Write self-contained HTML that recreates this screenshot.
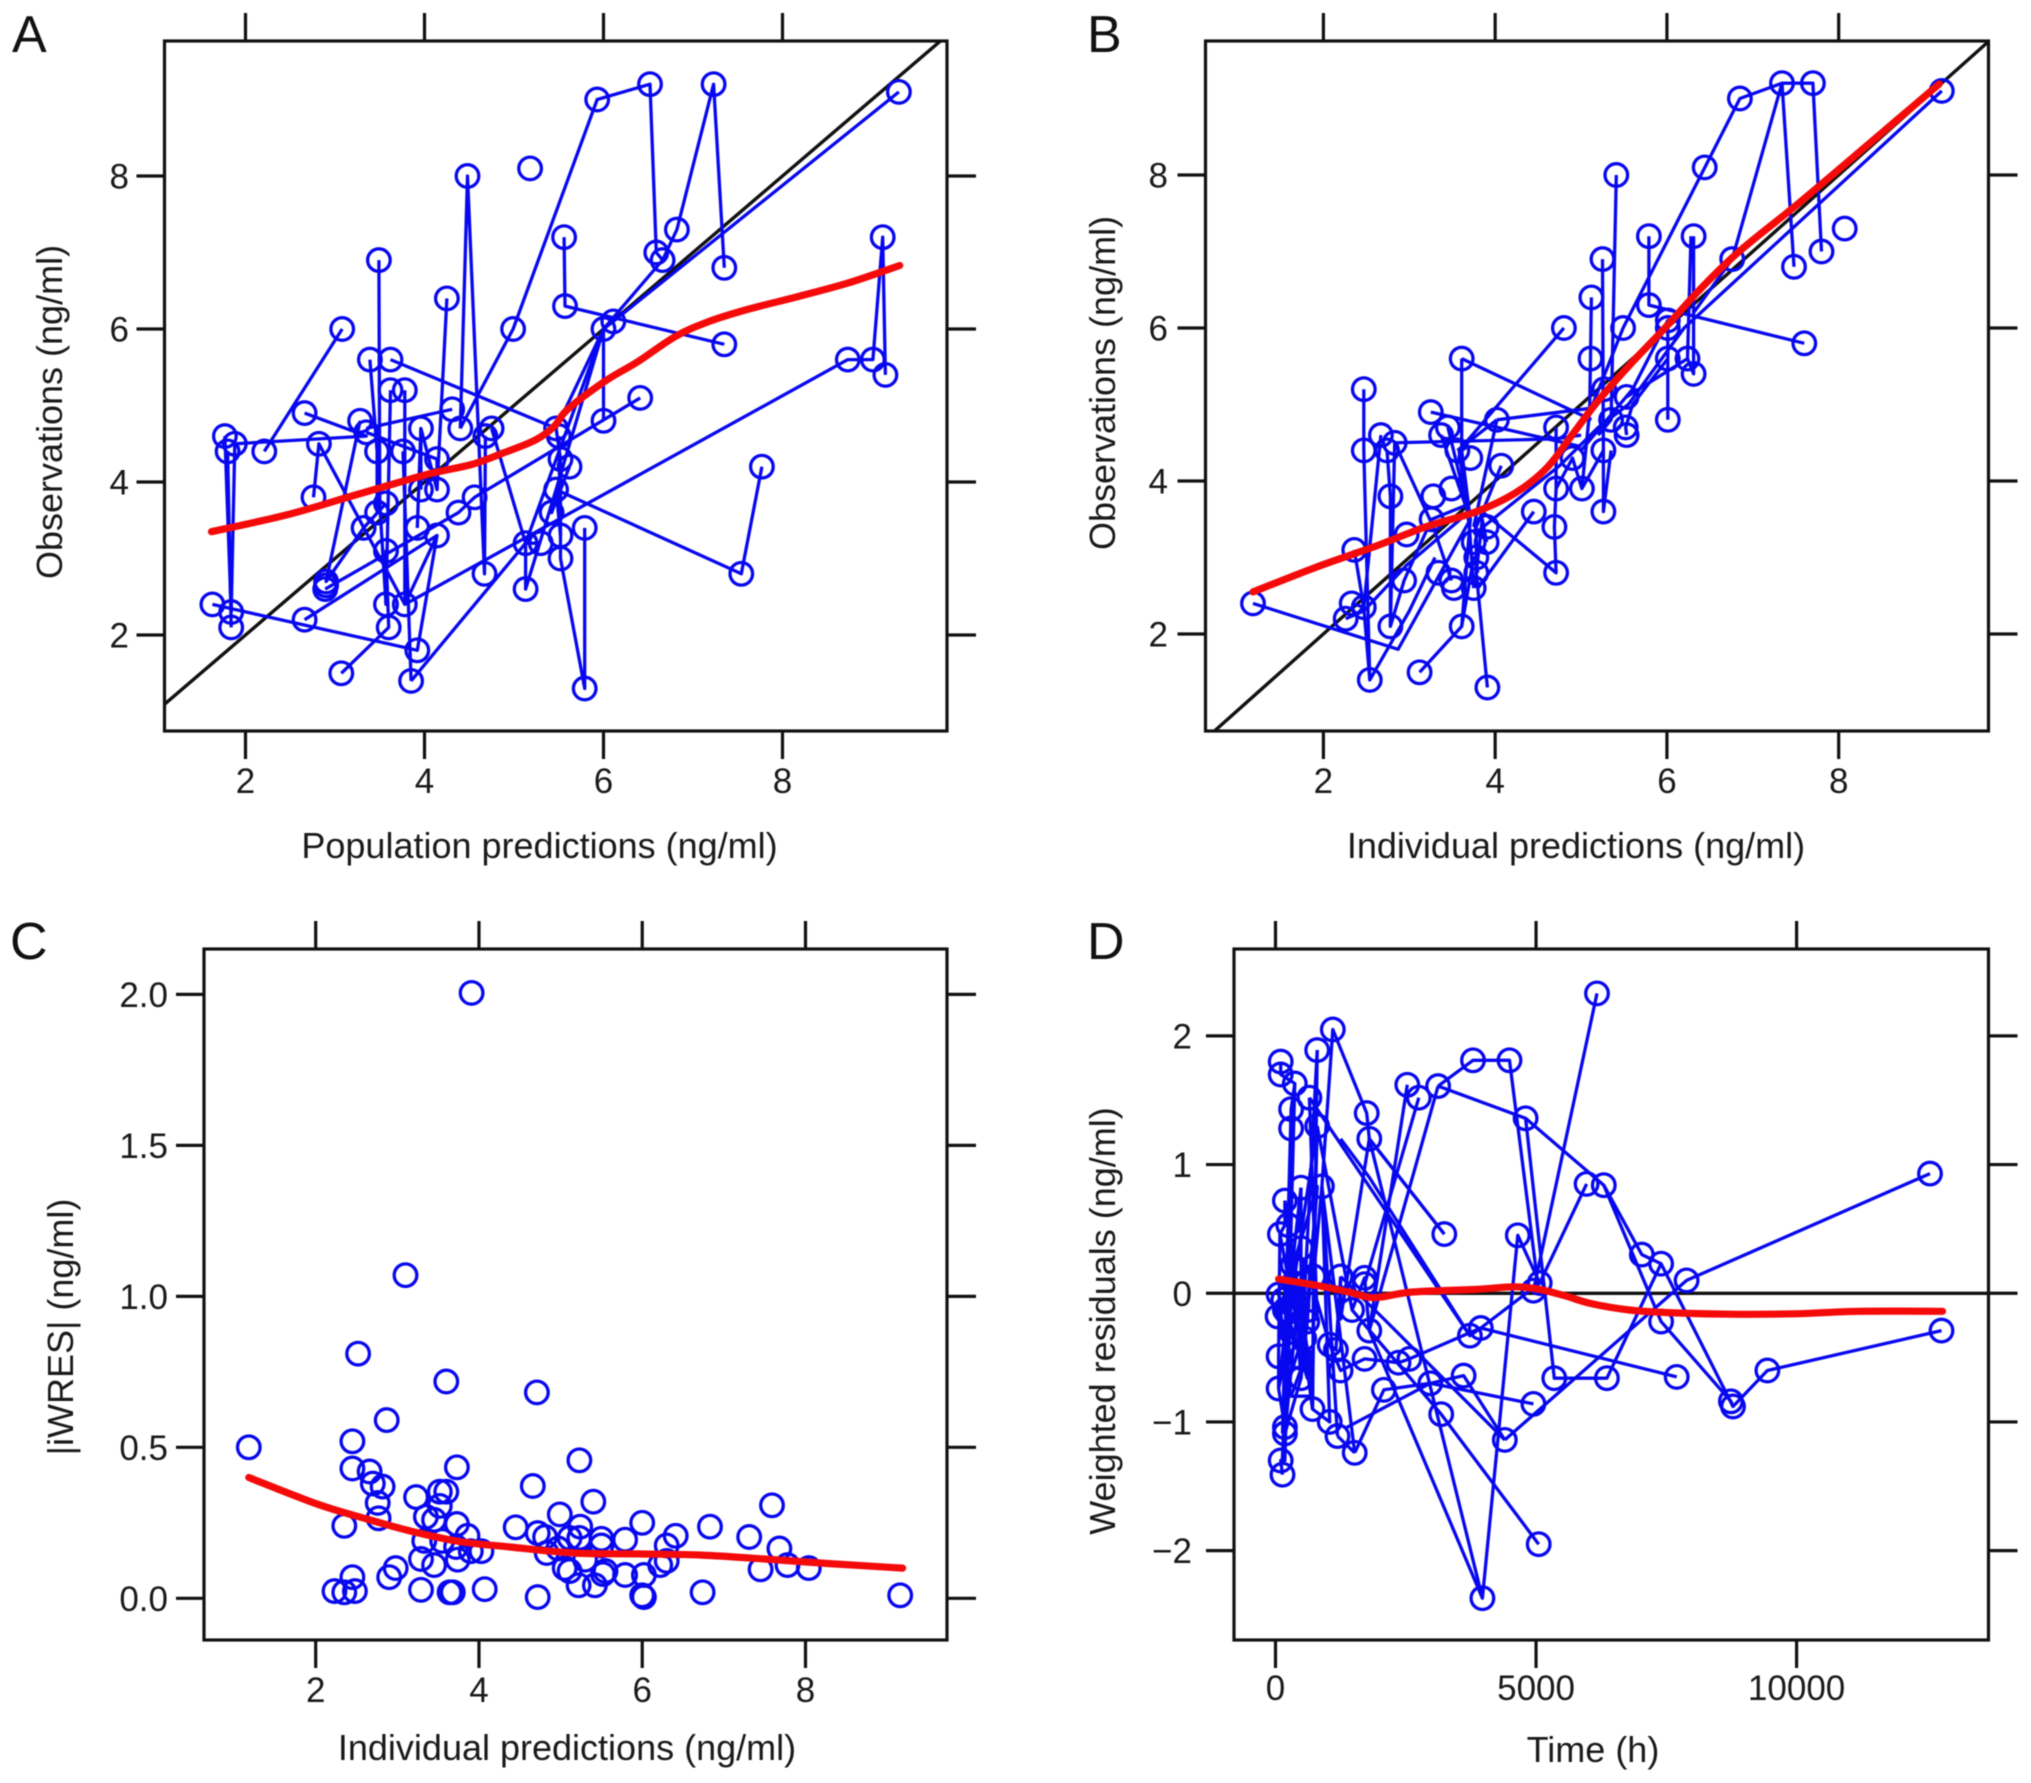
<!DOCTYPE html>
<html lang="en">
<head>
<meta charset="utf-8">
<title>Goodness-of-fit diagnostic plots</title>
<style>
html,body{margin:0;padding:0;background:#fff;}
svg{display:block;filter:blur(.5px);}
text{font-family:"Liberation Sans",Arial,sans-serif;fill:#1a1a1a;}
.title{font-size:36px;}
.tick{font-size:35px;}
.letter{font-size:52px;fill:#111;}
</style>
</head>
<body>
<svg id="figure" width="2031" height="1783" viewBox="0 0 2031 1783" xmlns="http://www.w3.org/2000/svg">
<rect x="0" y="0" width="2031" height="1783" fill="#fff"/>
<text class="letter" x="12" y="52">A</text>
<text class="letter" x="1087" y="52">B</text>
<text class="letter" x="10" y="959">C</text>
<text class="letter" x="1087" y="959">D</text>
<text class="title" x="539.5" y="858" text-anchor="middle">Population predictions (ng/ml)</text>
<text class="title" x="1576" y="858" text-anchor="middle">Individual predictions (ng/ml)</text>
<text class="title" x="567" y="1760" text-anchor="middle">Individual predictions (ng/ml)</text>
<text class="title" x="1593" y="1762" text-anchor="middle">Time (h)</text>
<text class="title" transform="translate(62,412) rotate(-90)" text-anchor="middle">Observations (ng/ml)</text>
<text class="title" transform="translate(1115,383) rotate(-90)" text-anchor="middle">Observations (ng/ml)</text>
<text class="title" transform="translate(73,1327) rotate(-90)" text-anchor="middle">|iWRES| (ng/ml)</text>
<text class="title" transform="translate(1115,1321) rotate(-90)" text-anchor="middle">Weighted residuals (ng/ml)</text>
</svg>
<script>
// ---------- Panel A: observations vs population predictions ----------
const aPointsX = [1.63,1.77,1.80,1.88,1.84,1.84,2.21,2.66,2.66,3.08,2.82,2.76,2.90,2.90,2.89,3.07,3.28,3.35,3.32,3.39,3.49,3.47,3.47,3.57,3.62,3.62,3.78,3.57,3.57,3.60,3.78,3.76,3.85,3.92,3.92,3.96,3.96,4.14,4.14,4.14,4.25,4.31,4.40,4.38,4.48,4.56,4.68,4.75,4.67,4.99,5.13,5.13,5.18,5.30,5.42,5.47,5.50,5.47,5.52,5.62,5.52,5.52,5.56,5.57,5.79,5.79,5.93,6.00,6.00,6.11,6.41,6.52,6.59,6.66,6.82,7.23,7.35,7.35,7.54,7.77,8.73,9.01,9.15,9.12,9.30];
const aPointsY = [2.4,4.6,4.4,4.5,2.3,2.1,4.4,4.9,2.2,6.0,4.5,3.8,2.7,2.65,2.6,1.5,4.8,4.65,3.4,5.6,6.9,4.4,3.6,3.72,5.6,5.2,5.2,3.1,2.4,2.1,2.4,4.4,1.4,1.8,3.4,4.7,3.9,3.9,4.3,3.3,6.4,4.95,4.7,3.6,8.0,3.8,4.6,4.7,2.8,6.0,3.2,2.6,8.1,3.2,3.6,4.7,4.6,3.9,4.3,4.2,3.3,3.0,7.2,6.3,3.4,1.3,9.0,6.0,4.8,6.1,5.1,9.2,7.0,6.9,7.3,9.2,6.8,5.8,2.8,4.2,5.6,5.6,5.4,7.2,9.1];
const aPathsX = [
 [1.63,3.92,4.14,3.78,3.78],[1.77,1.84,1.88,3.35,2.66],[1.80,1.84],[2.21,3.08],[2.76,2.82,3.78],
 [3.28,2.90,3.32,3.57],[2.89,4.38,4.56,6.41],[2.66,4.14],[3.07,3.60,3.57,3.57,3.62],
 [3.78,8.73,9.01,9.12,9.15],[3.85,5.13,6.00,6.00],[3.62,5.47,6.00],[3.39,3.47,3.47],[3.49,3.50,3.57],
 [4.25,4.14,3.96,3.96],[3.35,4.14,4.14],[3.35,4.31],[4.40,4.48,4.67,4.68],
 [4.40,4.99,5.93,6.52,6.59,6.66,6.82,7.23,7.35],[4.75,5.13],[5.30,5.13,5.13,5.47,5.52,5.50],
 [5.79,5.79,5.52,5.52,5.47],[5.56,5.57,7.35],[5.62,5.42,5.47,7.54,7.77],[3.76,3.85],[3.96,3.92],
 [5.47,6.00,6.11,9.30],[6.00,6.66]
];
const aPathsY = [
 [2.4,1.8,3.3,2.4,5.2],[4.6,2.3,4.5,4.6,4.9],[4.4,2.1],[4.4,6.0],[3.8,4.5,2.4],
 [4.8,2.7,3.4,3.72],[2.6,3.6,3.8,5.1],[2.2,3.3],[1.5,2.1,3.1,2.4,5.2],
 [2.4,5.6,5.6,7.2,5.4],[1.4,3.2,6.0,4.8],[5.6,4.7,6.0],[5.6,4.4,3.6],[6.9,3.7,2.4],
 [6.4,3.9,4.7,3.9],[4.65,4.3,3.9],[4.7,4.95],[4.7,8.0,2.8,4.6],
 [4.7,6.0,9.0,9.2,7.0,6.9,7.3,9.2,6.8],[4.7,3.2],[3.2,3.2,2.6,3.9,3.3,4.6],
 [3.4,1.3,3.0,4.3,4.7],[7.2,6.3,5.8],[4.2,3.6,3.9,2.8,4.2],[4.4,1.4],[4.7,3.4],
 [3.9,6.0,6.1,9.1],[6.0,6.9]
];
const aSmoothX = [1.62,2.46,3.17,3.67,4.10,4.53,4.88,5.24,5.45,5.60,6.02,6.38,6.80,7.16,7.59,8.16,8.73,9.31];
const aSmoothY = [3.35,3.57,3.81,3.98,4.12,4.23,4.38,4.55,4.73,4.95,5.32,5.57,5.90,6.09,6.25,6.42,6.60,6.83];
const aRefX = [0,11];
const aRefY = [0,11];
const aTicksX = [2,4,6,8];
const aTicksY = [2,4,6,8];

// ---------- Panel B: observations vs individual predictions ----------
const bPointsX = [1.18,2.47,2.36,2.26,2.33,2.47,2.47,2.54,2.67,2.74,2.83,2.78,2.78,2.97,2.94,3.12,3.25,3.28,3.26,3.37,3.45,3.34,3.49,3.52,3.49,3.61,3.56,3.61,3.71,3.75,3.78,3.78,3.75,3.90,3.90,3.91,4.02,4.07,4.45,4.71,4.69,4.71,4.71,4.80,4.90,5.01,5.12,5.11,5.25,5.26,5.26,5.41,5.27,5.35,5.49,5.53,5.52,5.53,5.79,5.79,6.01,6.01,6.01,6.01,6.24,6.31,6.31,6.44,6.76,6.85,7.34,7.48,7.60,7.70,7.80,8.07,9.20];
const bPointsY = [2.4,5.2,3.1,2.2,2.4,4.4,2.35,1.4,4.6,4.4,4.5,3.8,2.1,3.3,2.7,1.5,4.9,3.8,3.5,4.6,4.7,2.8,2.7,2.6,3.9,5.6,4.4,2.1,4.3,2.6,2.8,3.0,3.2,3.2,3.4,1.3,4.8,4.2,3.6,2.8,3.4,3.9,4.7,6.0,4.3,3.9,6.4,5.6,6.9,4.4,3.6,8.0,5.2,4.8,6.0,5.1,4.7,4.6,7.2,6.3,4.8,5.6,6.0,6.1,5.6,7.2,5.4,8.1,6.9,9.0,9.2,6.8,5.8,9.2,7.0,7.3,9.1];
const bPathsX = [
 [1.18,2.87,3.71],[2.47,2.47,2.54,3.00,3.30],[2.67,2.47,2.33],[2.74,2.78,2.78],[2.83,2.78,2.94,3.26,3.70],
 [2.83,4.71,5.00],[2.83,3.28,3.49],[2.26,2.47,2.97,3.70],[2.36,2.47,2.54],[3.25,5.00],[3.37,3.71,3.45],
 [3.61,3.61,3.71,3.61],[3.61,5.12],[4.80,3.58,3.70,3.75],[4.02,5.11],[4.02,3.56],[4.02,3.75],
 [3.12,3.61,3.75,3.80],[3.91,3.78,3.85,3.90],[4.07,3.78,3.78],[4.45,3.80],[3.85,4.71,4.69,4.71,4.71],
 [5.12,5.11,5.10,5.01],[5.25,5.26,5.26,5.35],[5.41,5.35,5.20],[5.10,5.49,6.85,7.34,7.70,7.80],
 [7.34,7.48],[7.34,6.76,6.31],[5.79,5.79,7.60],[6.31,6.31,6.24],[6.28,6.24],[6.01,6.01,6.01,5.60,5.00],
 [9.20,6.20,5.55,5.20,4.75,3.75],[5.53,5.52,5.60,6.01],[5.53,6.24],[4.71,4.90,5.01,5.26]
];
const bPathsY = [
 [2.4,1.8,3.5],[5.2,4.4,1.4,2.3,3.0],[4.6,2.35,2.4],[4.4,3.8,2.1],[4.5,2.1,2.7,3.5,3.7],
 [4.5,4.55,4.6],[4.5,3.4,2.7],[2.2,2.3,2.9,3.6],[3.1,2.35,1.4],[4.9,4.45],[4.6,3.5,4.7],
 [5.6,4.4,3.5,2.1],[5.6,4.8],[6.0,4.4,3.4,2.6],[4.8,4.95],[4.8,4.4],[4.8,3.4],
 [1.5,2.1,3.0,2.8],[1.3,2.8,3.5,3.2],[4.2,3.4,2.6],[3.6,2.6],[3.6,2.8,3.4,3.9,4.7],
 [6.4,5.6,4.9,3.9],[6.9,4.4,3.6,4.4],[8.0,4.8,4.6],[4.9,6.0,9.0,9.2,9.2,7.0],
 [9.2,6.8],[9.2,6.9,6.2],[7.2,6.3,5.8],[7.2,5.4,5.6],[7.2,5.6],[4.8,5.6,6.1,5.2,4.4],
 [9.1,6.0,5.0,4.7,4.2,3.3],[4.6,4.7,5.0,5.6],[5.1,5.6],[3.9,4.3,3.9,4.4]
];
const bSmoothX = [1.18,1.93,2.59,3.19,3.78,4.23,4.60,4.90,5.20,5.57,6.01,6.39,6.83,7.50,8.25,9.17];
const bSmoothY = [2.55,2.88,3.14,3.40,3.60,3.84,4.17,4.61,5.05,5.52,6.04,6.51,6.99,7.60,8.31,9.19];
const bRefX = [0,11];
const bRefY = [0,11];
const bTicksX = [2,4,6,8];
const bTicksY = [2,4,6,8];

// ---------- Panel C: |iWRES| vs individual predictions ----------
const cPointsX = [1.18,2.23,2.35,2.48,2.45,2.35,2.45,2.45,2.52,2.66,2.70,2.82,2.76,2.77,2.87,2.90,2.98,3.10,3.23,3.29,3.29,3.33,3.35,3.45,3.52,3.52,3.60,3.45,3.60,3.55,3.64,3.68,3.73,3.73,3.72,3.74,3.86,3.90,3.91,4.03,4.07,4.45,4.66,4.71,4.72,4.72,4.81,4.83,4.99,4.97,5.05,5.11,5.11,5.23,5.24,5.23,5.22,5.30,5.42,5.40,5.50,5.50,5.52,5.55,5.79,5.79,6.00,6.02,6.00,6.02,6.22,6.30,6.30,6.41,6.74,6.83,7.31,7.45,7.59,7.68,7.78,8.04,9.16];
const cPointsY = [0.50,0.024,0.02,0.024,0.07,0.24,0.52,0.43,0.81,0.42,0.38,0.37,0.316,0.265,0.59,0.07,0.10,1.07,0.335,0.028,0.13,0.19,0.27,0.26,0.306,0.353,0.353,0.11,0.718,0.19,0.02,0.02,0.434,0.246,0.17,0.128,0.207,0.156,2.005,0.156,0.03,0.235,0.372,0.682,0.004,0.216,0.203,0.15,0.278,0.165,0.10,0.09,0.20,0.20,0.237,0.457,0.043,0.128,0.043,0.32,0.197,0.175,0.08,0.09,0.194,0.077,0.25,0.077,0.01,0.004,0.11,0.175,0.124,0.207,0.02,0.237,0.203,0.096,0.308,0.165,0.11,0.10,0.01];
const cSmoothX = [1.18,2.04,2.66,3.13,3.76,4.38,5.16,5.95,6.73,7.50,8.29,9.19];
const cSmoothY = [0.40,0.31,0.26,0.225,0.188,0.17,0.15,0.147,0.143,0.13,0.115,0.10];
const cTicksX = [2,4,6,8];
const cTicksY = [0,0.5,1,1.5,2];
const cTickLabelsY = ['0.0','0.5','1.0','1.5','2.0'];

// ---------- Panel D: weighted residuals vs time ----------
const dPointsX = [100,100,370,300,300,650,800,800,1100,180,490,890,85,245,490,330,730,60,40,180,610,60,60,490,710,1040,1190,180,180,100,135,1520,1250,1040,1160,1250,1710,1710,1710,1470,1800,1750,1800,2080,2360,2570,2530,2750,3120,3240,2970,3180,3610,3730,3940,3790,4490,4800,4400,4650,4950,5050,5070,4950,3970,5350,5970,6300,6170,6360,7030,7400,7400,7700,7890,8740,8780,9440,12560,12780,150,220,300,420,480,550,350];
const dPointsY = [1.80,1.70,1.63,1.43,1.28,1.52,1.30,1.89,2.05,0.72,0.82,0.83,0.46,0.53,0.35,0.22,0.13,-0.01,-0.18,-0.13,-0.22,-0.49,-0.74,-0.66,-0.90,-1.00,-1.11,-1.04,-1.09,-1.30,-1.41,-1.24,0.13,-0.40,-0.44,-0.60,0.12,0.07,-0.51,-0.13,-0.29,1.40,1.20,-0.75,-0.54,-0.51,1.62,1.52,1.61,0.46,-0.70,-0.94,-0.64,-0.33,-0.27,1.81,1.81,1.36,-1.14,0.45,-0.86,-1.95,0.08,0.02,-2.37,-0.66,0.85,0.84,2.33,-0.66,0.30,0.23,-0.22,-0.65,0.10,-0.84,-0.88,-0.60,0.93,-0.29,-0.05,-0.15,-0.30,-0.10,-0.50,-0.35,0.08];
const dPathsX = [
 [100,100,370,300,135],[300,180],[370,180,100,135],[800,710,1040,890,1100,1750,1800,3240],[890,1190],[890,1520],
 [650,800,610,490,330,490],[650,3730,3940,7700],[800,730,710],[180,180,85,60,60,180],[490,490,180],
 [1250,1160,1040,1250,1710,2360,2570,3940,5070],[800,1470,1710,1800,2530],[1710,2750],[1800,3120],
 [3120,3790,4490,5050,4950],[3120,4800,6300,7030,7400,8780,9440,12780],[6300,7400,8740,8780],
 [4800,5350,6360,7400],[5070,5970],[4950,6170],[4400,7890,12560],[5070,4650,3970,1800,3240],[3970,1800],
 [4950,2970,2080,1520],[1330,2970],[1520,1190],[5050,3180,1470],[4400,3610,2970],[3730,1800,1250],[1800,1250,1250],
 [4400,2080,1250],[40,180,610,240,60],[60,300,60,490],[610,800,40],[130,300],[245,710,330],[890,730,610,1040],
 [180,710],[245,490,550,800],[330,180,420,150],[85,610,220],[300,480,350,800],[800,480,300,720]
];
const dPathsY = [
 [1.80,1.70,1.63,1.43,-1.09],[1.28,-1.04],[1.63,-1.30,-1.30,-1.41],[1.89,-0.90,-1.00,0.83,2.05,1.40,1.20,0.46],[0.83,-1.11],[0.83,-1.24],
 [1.52,-0.20,-0.22,-0.66,0.22,0.35],[1.52,-0.33,-0.27,-0.65],[1.30,0.13,-0.90],[0.72,0.53,0.46,-0.49,-0.74,-1.04],[0.82,-0.66,-1.09],
 [0.13,-0.44,-0.40,-0.60,-0.51,-0.54,-0.51,-0.27,0.08],[1.30,-0.13,0.12,-0.29,1.62],[0.07,1.52],[-0.29,1.61],
 [1.61,1.81,1.81,0.02,0.02],[1.61,1.36,0.84,0.30,0.23,-0.88,-0.60,-0.29],[0.84,-0.22,-0.84,-0.88],
 [1.36,-0.66,-0.66,0.23],[0.08,0.85],[0.02,2.33],[-1.14,0.10,0.93],[0.08,0.45,-2.37,1.20,0.46],[-2.37,-0.29],
 [-0.86,-0.70,-0.75,-1.24],[-1.05,-0.70],[-1.24,-1.11],[-1.95,-0.94,-0.13],[-1.14,-0.64,-0.70],[-0.33,0.90,1.20],[1.20,-0.20,0.13],
 [-1.14,-0.20,0.13],[-0.18,-0.13,-0.22,-0.70,0.02],[-0.01,-0.30,-0.74,0.82],[-0.22,0.83,-0.18],[-1.30,0.30],[0.53,-0.70,0.22],[0.83,0.13,0.20,-0.40],
 [0.72,-0.90],[0.53,-0.50,-0.35,0.82],[0.22,-1.09,-0.10,-0.05],[0.46,-0.66,-0.15],[-0.30,-0.50,0.08,1.30],[1.89,-0.60,-0.80,-0.80]
];
const dSmoothX = [60,800,1400,1770,2020,2630,3850,4580,5070,5560,6050,6790,7520,8740,9960,11190,12800];
const dSmoothY = [0.11,0.06,0.01,-0.03,-0.03,0.01,0.03,0.05,0.03,-0.02,-0.08,-0.13,-0.15,-0.163,-0.16,-0.14,-0.14];
const dRefX = [-2000,15000];
const dRefY = [0,0];
const dTicksX = [0,5000,10000];
const dTicksY = [-2,-1,0,1,2];
const dTickLabelsY = ['\u22122','\u22121','0','1','2'];

const SVG_NS = 'http://www.w3.org/2000/svg';
const figure = document.getElementById('figure');

function linearScale(d0, d1, p0, p1) {
  return function (v) { return p0 + (v - d0) * (p1 - p0) / (d1 - d0); };
}
function make(tag, parent, attrs, name) {
  const el = document.createElementNS(SVG_NS, tag);
  for (const k in attrs) el.setAttribute(k, attrs[k]);
  
  
  parent.appendChild(el);
  return el;
}
function polyPoints(xs, ys, sx, sy) {
  return xs.map(function (x, i) { return sx(x).toFixed(1) + ',' + sy(ys[i]).toFixed(1); }).join(' ');
}
function curvePath(xs, ys, sx, sy) {
  const p = xs.map(function (x, i) { return [sx(x), sy(ys[i])]; });
  let d = 'M' + p[0][0].toFixed(1) + ' ' + p[0][1].toFixed(1);
  for (let i = 0; i < p.length - 1; i++) {
    const a = p[Math.max(i - 1, 0)], b = p[i], c = p[i + 1], e = p[Math.min(i + 2, p.length - 1)];
    const c1x = b[0] + (c[0] - a[0]) / 6, c1y = b[1] + (c[1] - a[1]) / 6;
    const c2x = c[0] - (e[0] - b[0]) / 6, c2y = c[1] - (e[1] - b[1]) / 6;
    d += 'C' + c1x.toFixed(1) + ' ' + c1y.toFixed(1) + ' ' + c2x.toFixed(1) + ' ' + c2y.toFixed(1) + ' ' + c[0].toFixed(1) + ' ' + c[1].toFixed(1);
  }
  return d;
}
function drawPanel(cfg) {
  const id = cfg.id;
  const g = make('g', figure, {}, 'panel-' + id);
  const box = cfg.box;
  const sx = cfg.sx, sy = cfg.sy;
  const clip = make('clipPath', g, {id: 'clip-' + id}, 'panel-' + id + '-clip');
  make('rect', clip, {x: box.l, y: box.t, width: box.r - box.l, height: box.b - box.t}, 'panel-' + id + '-clip-rect');
  const plot = make('g', g, {'clip-path': 'url(#clip-' + id + ')'}, 'panel-' + id + '-plot-area');
  if (cfg.refX) {
    make('polyline', plot, {points: polyPoints(cfg.refX, cfg.refY, sx, sy), fill: 'none', stroke: '#111', 'stroke-width': 3.4}, 'panel-' + id + '-reference-line');
  }
  (cfg.pathsX || []).forEach(function (xs, i) {
    make('polyline', plot, {points: polyPoints(xs, cfg.pathsY[i], sx, sy), fill: 'none', stroke: '#0808f0', 'stroke-width': 3.3, 'stroke-linejoin': 'round'}, 'panel-' + id + '-subject-line-' + i);
  });
  cfg.pointsX.forEach(function (x, i) {
    make('circle', plot, {cx: sx(x).toFixed(1), cy: sy(cfg.pointsY[i]).toFixed(1), r: 11.3, fill: 'none', stroke: '#0808f0', 'stroke-width': 3.3}, 'panel-' + id + '-point-' + i);
  });
  make('path', plot, {d: curvePath(cfg.smoothX, cfg.smoothY, sx, sy), fill: 'none', stroke: '#f50a0a', 'stroke-width': 7.2, 'stroke-linejoin': 'round', 'stroke-linecap': 'round'}, 'panel-' + id + '-smooth-curve');
  make('rect', g, {x: box.l, y: box.t, width: box.r - box.l, height: box.b - box.t, fill: 'none', stroke: '#111', 'stroke-width': 3.2}, 'panel-' + id + '-frame');
  cfg.ticksX.forEach(function (v, i) {
    const px = sx(v);
    make('line', g, {x1: px, x2: px, y1: box.t - 28, y2: box.t, stroke: '#111', 'stroke-width': 3.2}, 'panel-' + id + '-top-tick-' + i);
    make('line', g, {x1: px, x2: px, y1: box.b, y2: box.b + 28, stroke: '#111', 'stroke-width': 3.2}, 'panel-' + id + '-bottom-tick-' + i);
    const t = make('text', g, {x: px, y: cfg.xLabelY, 'text-anchor': 'middle', class: 'tick'}, 'panel-' + id + '-x-tick-label-' + i);
    t.textContent = String(v);
  });
  cfg.ticksY.forEach(function (v, i) {
    const py = sy(v);
    make('line', g, {x1: box.l - 28, x2: box.l, y1: py, y2: py, stroke: '#111', 'stroke-width': 3.2}, 'panel-' + id + '-left-tick-' + i);
    make('line', g, {x1: box.r, x2: box.r + 29, y1: py, y2: py, stroke: '#111', 'stroke-width': 3.2}, 'panel-' + id + '-right-tick-' + i);
    const t = make('text', g, {x: cfg.yLabelX, y: py + 12.5, 'text-anchor': 'end', class: 'tick'}, 'panel-' + id + '-y-tick-label-' + i);
    t.textContent = cfg.labelsY ? cfg.labelsY[i] : String(v);
  });
}

drawPanel({id: 'a', box: {l: 164.5, r: 947, t: 41, b: 731},
  sx: linearScale(2, 8, 245.5, 782.5), sy: linearScale(2, 8, 635, 176),
  pointsX: aPointsX, pointsY: aPointsY, pathsX: aPathsX, pathsY: aPathsY,
  smoothX: aSmoothX, smoothY: aSmoothY, refX: aRefX, refY: aRefY,
  ticksX: aTicksX, ticksY: aTicksY, xLabelY: 793, yLabelX: 129});
drawPanel({id: 'b', box: {l: 1205.5, r: 1988.5, t: 41, b: 731},
  sx: linearScale(2, 8, 1323.4, 1838.7), sy: linearScale(2, 8, 634, 175),
  pointsX: bPointsX, pointsY: bPointsY, pathsX: bPathsX, pathsY: bPathsY,
  smoothX: bSmoothX, smoothY: bSmoothY, refX: bRefX, refY: bRefY,
  ticksX: bTicksX, ticksY: bTicksY, xLabelY: 793, yLabelX: 1168});
drawPanel({id: 'c', box: {l: 204, r: 947, t: 949, b: 1640},
  sx: linearScale(2, 8, 315.7, 805.5), sy: linearScale(0, 2, 1598.3, 994.4),
  pointsX: cPointsX, pointsY: cPointsY,
  smoothX: cSmoothX, smoothY: cSmoothY,
  ticksX: cTicksX, ticksY: cTicksY, labelsY: cTickLabelsY, xLabelY: 1702, yLabelX: 168});
drawPanel({id: 'd', box: {l: 1234, r: 1988.5, t: 949, b: 1640},
  sx: linearScale(0, 10000, 1275.5, 1796.6), sy: linearScale(-2, 2, 1550.6, 1035.9),
  pointsX: dPointsX, pointsY: dPointsY, pathsX: dPathsX, pathsY: dPathsY,
  smoothX: dSmoothX, smoothY: dSmoothY, refX: dRefX, refY: dRefY,
  ticksX: dTicksX, ticksY: dTicksY, labelsY: dTickLabelsY, xLabelY: 1700, yLabelX: 1192});
</script>
</body>
</html>
